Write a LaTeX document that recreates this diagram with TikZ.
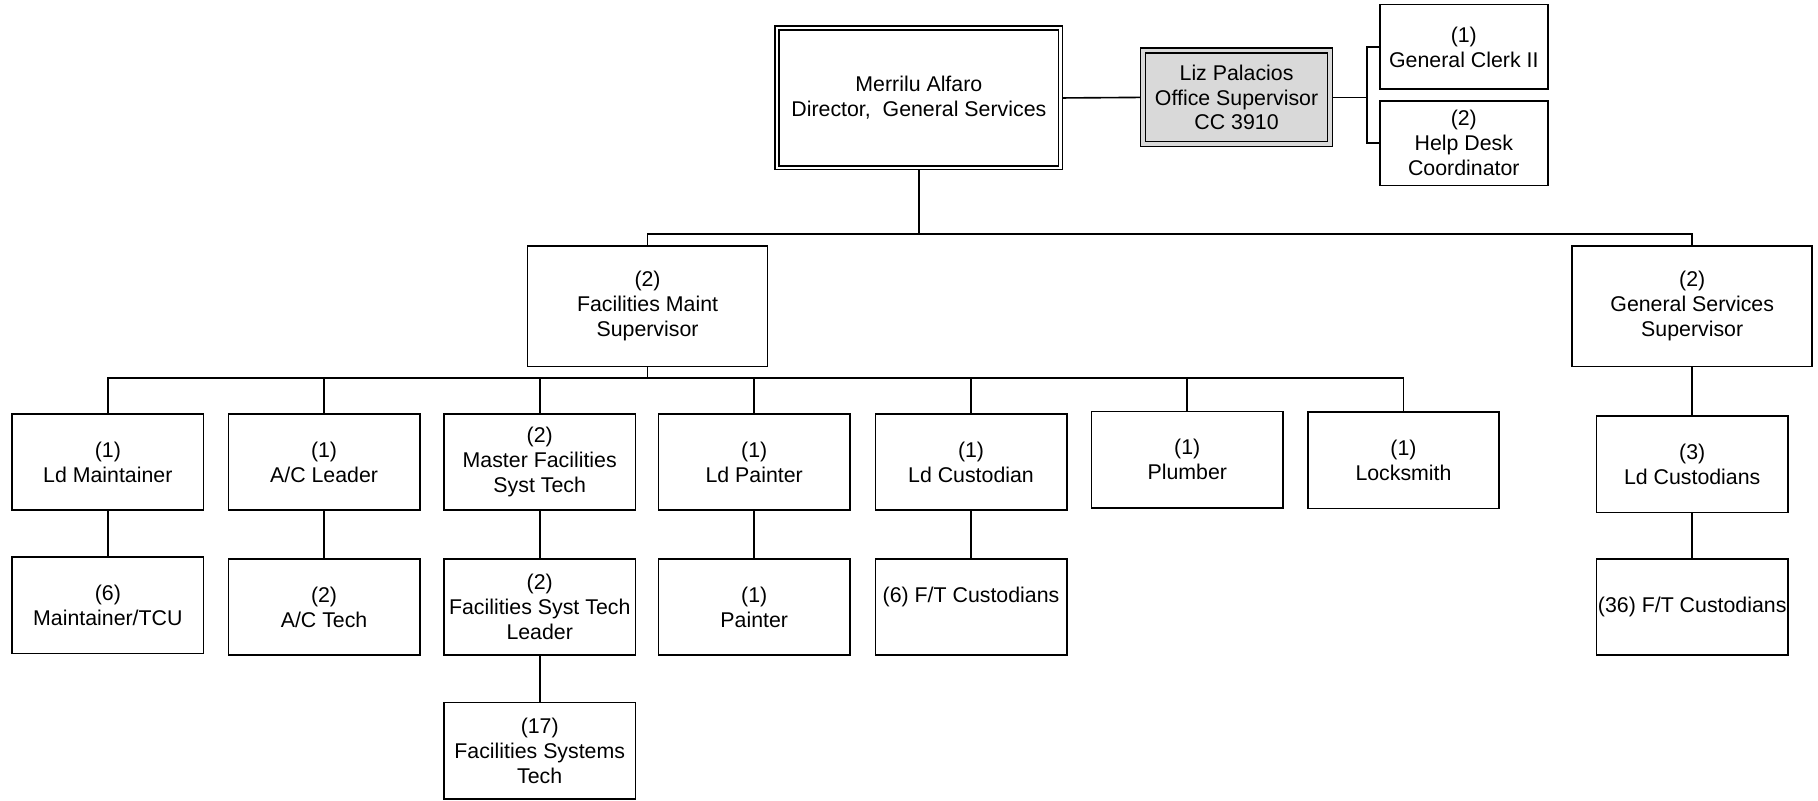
\documentclass[tikz,border=0pt]{standalone}
\usepackage{fontspec}
\setmainfont{Liberation Sans}
\usetikzlibrary{backgrounds}
\definecolor{lizgray}{RGB}{217,217,217}
\begin{document}
\begin{tikzpicture}[x=1pt,y=-1pt,
  every node/.style={font=\fontsize{18.4}{21.5}\selectfont, align=center, inner sep=0pt},
  box/.style={draw, line width=1.4pt, fill=white, minimum width=165pt, minimum height=83pt},
  supbox/.style={box, minimum width=207pt, minimum height=104pt},
  clerkbox/.style={box, minimum width=145pt, minimum height=73pt},
  conn/.style={line width=1.4pt}
]
\useasboundingbox (0,0) rectangle (1568,690);

% top
\node[draw, line width=1.2pt, double, double distance=2.1pt, fill=white,
      minimum width=244.6pt, minimum height=120.6pt] (dir) at (792.5,84.5)
      {Merrilu Alfaro\\Director,\ \ General Services};
\node[draw, line width=1.2pt, double=lizgray, double distance=3.1pt, fill=lizgray,
      minimum width=161.6pt, minimum height=80.6pt] (liz) at (1066.5,84)
      {Liz Palacios\\Office Supervisor\\CC 3910};
\node[clerkbox] (clerk) at (1262.5,40.5) {(1)\\General Clerk II};
\node[clerkbox] (help) at (1262.5,123.5) {(2)\\Help Desk\\Coordinator};

% supervisors
\node[supbox] (fms) at (558.5,264) {(2)\\Facilities Maint\\Supervisor};
\node[supbox] (gss) at (1459.5,264) {(2)\\General Services\\Supervisor};

% level 3
\node[box] (ldm) at (93,398.5) {(1)\\Ld Maintainer};
\node[box] (acl) at (279.5,398.5) {(1)\\A/C Leader};
\node[box] (mfst) at (465.5,398.5) {(2)\\Master Facilities\\Syst Tech};
\node[box] (ldp) at (650.5,398.5) {(1)\\Ld Painter};
\node[box] (ldc) at (837.5,398.5) {(1)\\Ld Custodian};
\node[box] (plb) at (1024,396.5) {(1)\\Plumber};
\node[box] (lock) at (1210.5,397) {(1)\\Locksmith};
\node[box] (ldcs) at (1459.5,400.5) {(3)\\Ld Custodians};

% level 4
\node[box] (mtcu) at (93,522) {(6)\\Maintainer/TCU};
\node[box] (act) at (279.5,523.5) {(2)\\A/C Tech};
\node[box] (fstl) at (465.5,523.5) {(2)\\Facilities Syst Tech\\Leader};
\node[box] (pnt) at (650.5,523.5) {(1)\\Painter};
\node[box] (ftc6) at (837.5,523.5) {(6) F/T Custodians\\\mbox{}};
\node[box] (ftc36) at (1459.5,523.5) {(36) F/T Custodians};
\node[box] (fst) at (465.5,647.5) {(17)\\Facilities Systems\\Tech};

\begin{scope}[on background layer]
  \coordinate (b1) at (792.5,202);
  \coordinate (b2) at (558.5,326);
  \coordinate (br) at (1179,84);
  \draw[conn] (dir.east) -- (liz.west);
  \draw[conn] (liz.east) -- (br);
  \draw[conn] (br) |- (clerk.west);
  \draw[conn] (br) |- (help.west);
  \draw[conn] (dir.south) -- (b1);
  \draw[conn] (b1) -| (fms.north);
  \draw[conn] (b1) -| (gss.north);
  \draw[conn] (fms.south) -- (b2);
  \foreach \c in {ldm,acl,mfst,ldp,ldc,plb,lock} {
    \draw[conn] (b2) -| (\c.north);
  }
  \draw[conn] (gss.south) -- (ldcs.north);
  \draw[conn] (ldcs.south) -- (ftc36.north);
  \draw[conn] (ldm.south) -- (mtcu.north);
  \draw[conn] (acl.south) -- (act.north);
  \draw[conn] (mfst.south) -- (fstl.north);
  \draw[conn] (fstl.south) -- (fst.north);
  \draw[conn] (ldp.south) -- (pnt.north);
  \draw[conn] (ldc.south) -- (ftc6.north);
\end{scope}
\end{tikzpicture}
\end{document}
